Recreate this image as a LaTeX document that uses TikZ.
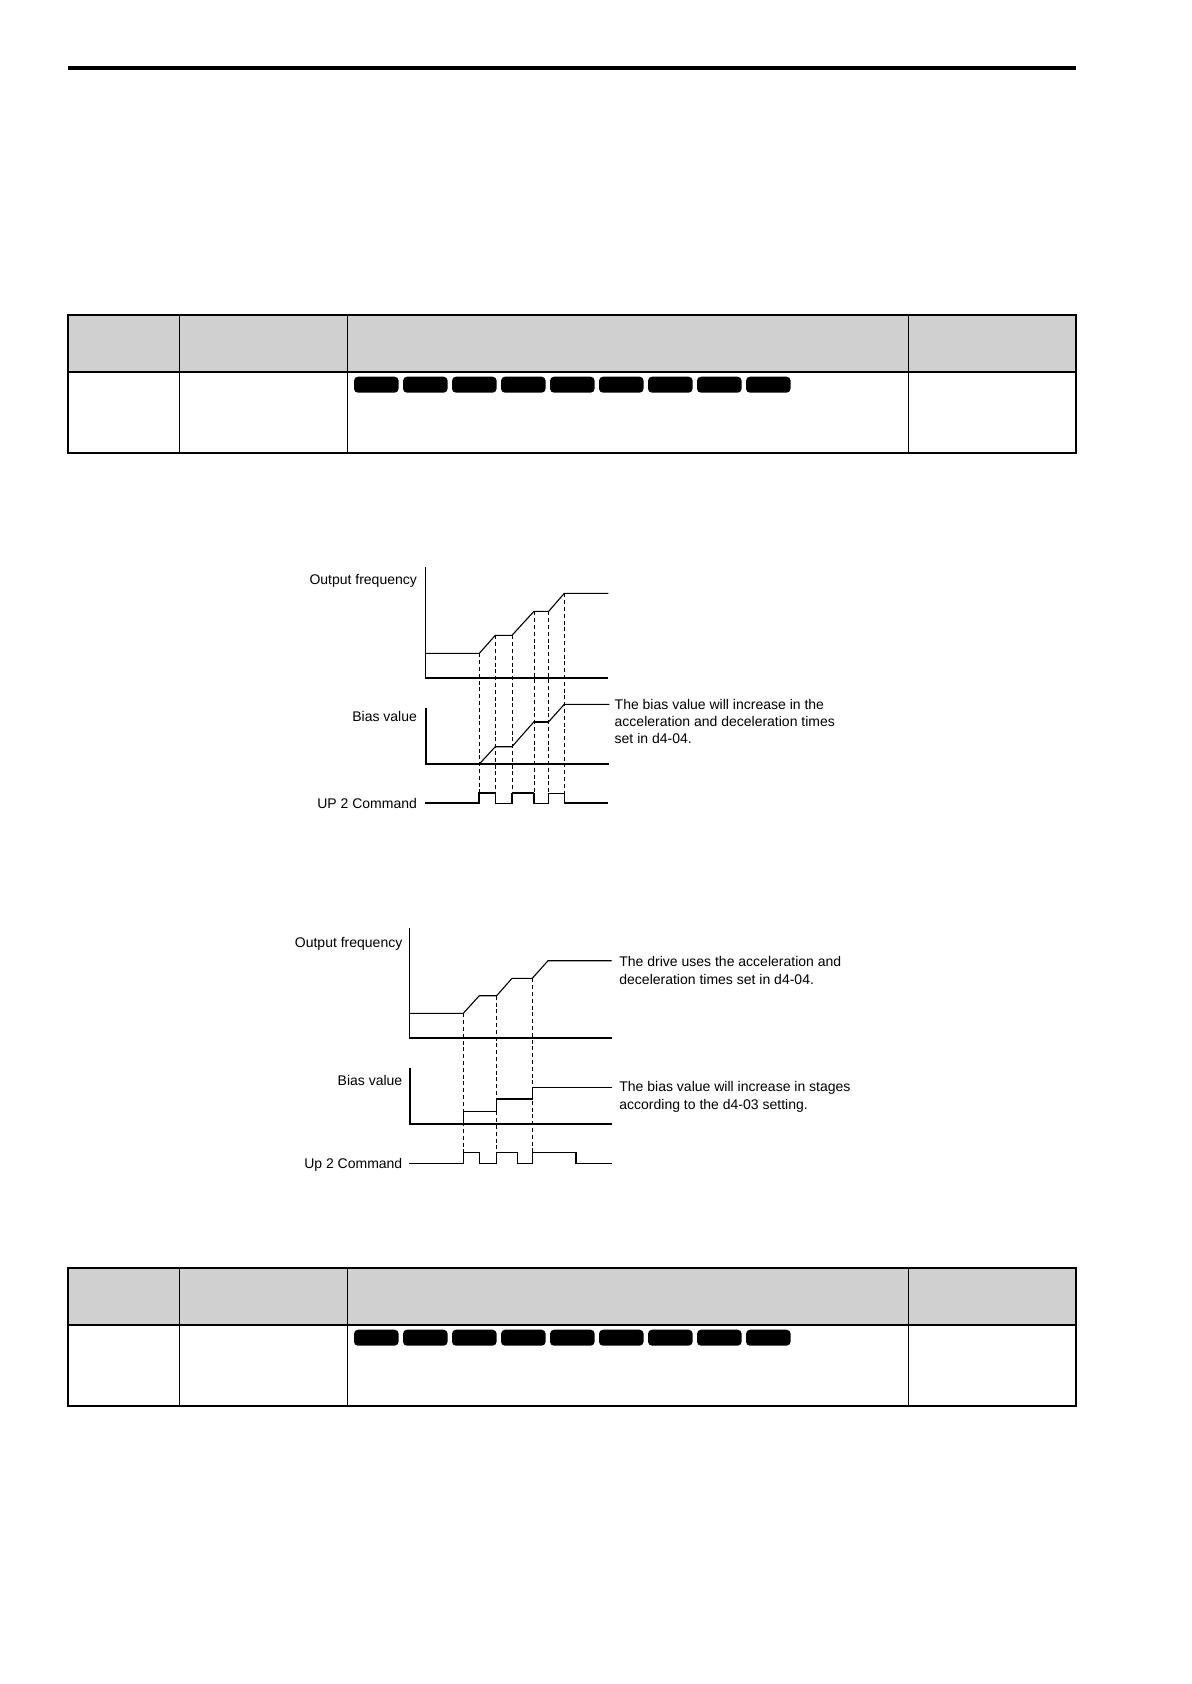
\documentclass[tikz,border=0pt]{standalone}
\usepackage{fontspec}
\setmainfont{Liberation Sans}
\definecolor{hdrgray}{RGB}{208,208,208}
\begin{document}
\begin{tikzpicture}[x=0.5pt,y=-0.5pt,
  ln/.style={line width=0.55pt,line join=miter},
  thk/.style={line width=1.1pt},
  dsh/.style={line width=0.5pt,dash pattern=on 2pt off 1.4pt},
  tborder/.style={line width=1pt},
  tinner/.style={line width=0.75pt},
  pill/.style={fill=black,rounded corners=2pt},
  lbl/.style={font=\fontsize{7}{8.5}\selectfont,inner sep=0pt,anchor=base east},
  note/.style={font=\fontsize{7}{8.5}\selectfont,inner sep=0pt,anchor=base west}]
\useasboundingbox (0,0) rectangle (1191,1684);
\fill[white] (0,0) rectangle (1191,1684);
% top rule
\draw[line width=2pt] (68,68) -- (1076.3,68);
% tables
\foreach \ty in {315.3,1268.3}{
\begin{scope}[shift={(0,\ty)}]
  \fill[hdrgray] (68.3,0) rectangle (1076.3,56.7);
  \draw[tinner] (179.3,0) -- (179.3,138);
  \draw[tinner] (347.3,0) -- (347.3,138);
  \draw[tinner] (908.3,0) -- (908.3,138);
  \draw[tborder] (68.3,56.7) -- (1076.3,56.7);
  \draw[tborder] (68.3,0) rectangle (1076.3,138);
  \foreach \i in {0,...,8}{
    \fill[pill] ({354+49*\i},61.4) rectangle ++(44.6,16);
  }
\end{scope}
}
% ---------- chart 1 ----------
\draw[ln] (425.3,567.3) -- (425.3,678) -- (608.3,678);
\draw[ln] (425.3,653.3) -- (479.3,653.3) -- (495.3,635.3) -- (512,635.3) -- (534,611.3) -- (548.7,611.3) -- (564.3,593.3) -- (608.3,593.3);
\draw[ln] (426,708.3) -- (426,764) -- (609.3,764);
\draw[ln] (479.3,764) -- (495.3,746.7) -- (512,746.7) -- (534,721.7) -- (548.7,721.7) -- (564.3,704.3) -- (609.3,704.3);
\draw[thk] (534,721.7) -- (548.7,721.7);
\draw[thk] (425.3,803.3) -- (479.3,803.3) -- (479.3,793.3) -- (495.3,793.3);
\draw[ln] (495.3,793.3) -- (495.3,803.3) -- (512,803.3) -- (512,793.3);
\draw[thk] (512,793.3) -- (534,793.3);
\draw[ln] (534,793.3) -- (534,803.3) -- (548.7,803.3) -- (548.7,793.3) -- (564.3,793.3) -- (564.3,803.3);
\draw[thk] (564.3,803.3) -- (608.3,803.3);
\foreach \x/\y in {479.3/653.3,495.3/635.3,512/635.3,534/611.3,548.7/611.3,564.3/593.3}{
  \draw[dsh] (\x,\y) -- (\x,793.3);
}
\node[lbl] (of1) at (417.3,584) {Output frequency};
\node[lbl] (bv1) at (417.3,721.7) {Bias value};
\node[lbl] (up1) at (417.3,808.3) {UP 2 Command};
\node[note] (n1a) at (614.3,709.3) {The bias value will increase in the};
\node[note] (n1b) at (614.3,726.3) {acceleration and deceleration times};
\node[note] (n1c) at (614.3,743.3) {set in d4-04.};
% ---------- chart 2 ----------
\draw[ln] (409.3,928.3) -- (409.3,1038) -- (611.7,1038);
\draw[ln] (409.3,1013.3) -- (463.3,1013.3) -- (479.3,995.7) -- (496.7,995.7) -- (512,978.3) -- (532.3,978.3) -- (548,960.7) -- (611.7,960.7);
\draw[ln] (410,1068) -- (410,1124) -- (611.7,1124);
\draw[ln] (463.3,1124) -- (463.3,1111.3) -- (496.7,1111.3) -- (496.7,1099) -- (532.3,1099) -- (532.3,1087.3) -- (611.7,1087.3);
\draw[ln] (409.3,1163.3) -- (463.3,1163.3) -- (463.3,1152.3) -- (479.3,1152.3) -- (479.3,1163.3) -- (496.7,1163.3) -- (496.7,1152.3) -- (517.3,1152.3) -- (517.3,1163.3) -- (532.3,1163.3) -- (532.3,1152.3) -- (576,1152.3) -- (576,1163.3) -- (611.7,1163.3);
\foreach \x/\y in {463.3/1013.3,496.7/995.7,532.3/978.3}{
  \draw[dsh] (\x,\y) -- (\x,1152.3);
}
\node[lbl] (of2) at (402.7,947) {Output frequency};
\node[lbl] (bv2) at (402.7,1085.3) {Bias value};
\node[lbl] (up2) at (402.7,1168.3) {Up 2 Command};
\node[note] (n2a) at (619,966.5) {The drive uses the acceleration and};
\node[note] (n2b) at (619,984) {deceleration times set in d4-04.};
\node[note] (n3a) at (619,1091.7) {The bias value will increase in stages};
\node[note] (n3b) at (619,1109) {according to the d4-03 setting.};
\end{tikzpicture}
\end{document}
